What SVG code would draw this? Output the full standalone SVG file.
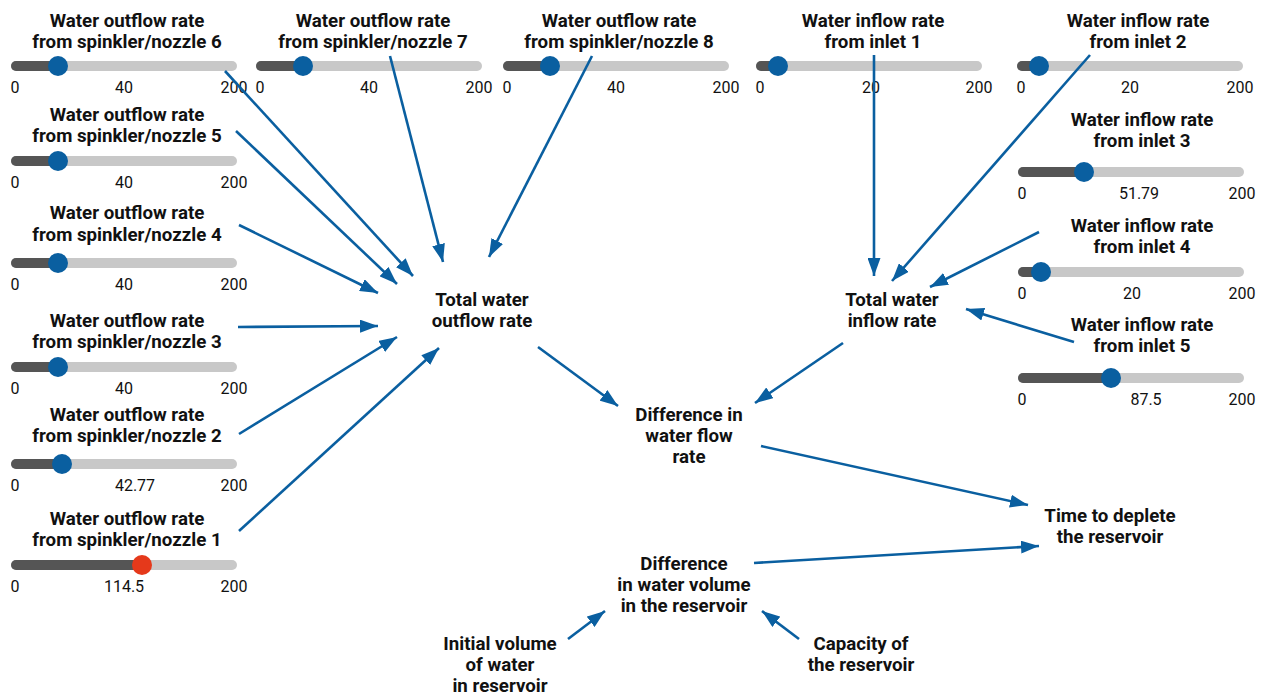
<svg xmlns="http://www.w3.org/2000/svg" width="1267" height="696" viewBox="0 0 1267 696">
<style>
.t{font-family:Roboto,"Liberation Sans",sans-serif;font-weight:bold;font-size:18.7px;fill:#111;text-anchor:middle}
.n{font-family:Roboto,"Liberation Sans",sans-serif;font-size:16px;fill:#111;text-anchor:middle}
.tr{stroke:#c8c8c8;stroke-width:10;stroke-linecap:round}
.dk{stroke:#555;stroke-width:10;stroke-linecap:round}
.th{fill:#0a5fa0}
.red{fill:#e5391b}
.c line{stroke:#0a5fa0;stroke-width:2.6;marker-end:url(#ah)}
</style>
<defs>
<marker id="ah" markerUnits="userSpaceOnUse" markerWidth="18" markerHeight="13" refX="18" refY="6.5" orient="auto">
<path d="M0,0 L18,6.5 L0,13 z" fill="#0a5fa0"/>
</marker>
</defs>
<rect width="1267" height="696" fill="#fff"/>

<g id="nozzle6">
<text class="t" x="127" y="27">Water outflow rate</text><text class="t" x="127" y="48">from spinkler/nozzle 6</text>
<line class="tr" x1="16" y1="66" x2="232" y2="66"/><line class="dk" x1="16" y1="66" x2="58" y2="66"/><circle class="th" cx="58" cy="66" r="10"/>
<text class="n" x="15" y="93">0</text><text class="n" x="124" y="93">40</text><text class="n" x="234" y="93">200</text>
</g>
<g id="nozzle7">
<text class="t" x="373" y="27">Water outflow rate</text><text class="t" x="373" y="48">from spinkler/nozzle 7</text>
<line class="tr" x1="261" y1="66" x2="477" y2="66"/><line class="dk" x1="261" y1="66" x2="303" y2="66"/><circle class="th" cx="303" cy="66" r="10"/>
<text class="n" x="260" y="93">0</text><text class="n" x="369" y="93">40</text><text class="n" x="479" y="93">200</text>
</g>
<g id="nozzle8">
<text class="t" x="619" y="27">Water outflow rate</text><text class="t" x="619" y="48">from spinkler/nozzle 8</text>
<line class="tr" x1="508" y1="66" x2="724" y2="66"/><line class="dk" x1="508" y1="66" x2="550" y2="66"/><circle class="th" cx="550" cy="66" r="10"/>
<text class="n" x="507" y="93">0</text><text class="n" x="616" y="93">40</text><text class="n" x="726" y="93">200</text>
</g>
<g id="inlet1">
<text class="t" x="873" y="27">Water inflow rate</text><text class="t" x="873" y="48">from inlet 1</text>
<line class="tr" x1="761" y1="66" x2="977" y2="66"/><line class="dk" x1="761" y1="66" x2="778" y2="66"/><circle class="th" cx="778" cy="66" r="10"/>
<text class="n" x="760" y="93">0</text><text class="n" x="871" y="93">20</text><text class="n" x="979" y="93">200</text>
</g>
<g id="inlet2">
<text class="t" x="1138" y="27">Water inflow rate</text><text class="t" x="1138" y="48">from inlet 2</text>
<line class="tr" x1="1022" y1="66" x2="1238" y2="66"/><line class="dk" x1="1022" y1="66" x2="1039" y2="66"/><circle class="th" cx="1039" cy="66" r="10"/>
<text class="n" x="1021" y="93">0</text><text class="n" x="1130" y="93">20</text><text class="n" x="1240" y="93">200</text>
</g>
<g id="nozzle5">
<text class="t" x="127" y="121">Water outflow rate</text><text class="t" x="127" y="142">from spinkler/nozzle 5</text>
<line class="tr" x1="16" y1="161" x2="232" y2="161"/><line class="dk" x1="16" y1="161" x2="58" y2="161"/><circle class="th" cx="58" cy="161" r="10"/>
<text class="n" x="15" y="188">0</text><text class="n" x="124" y="188">40</text><text class="n" x="234" y="188">200</text>
</g>
<g id="nozzle4">
<text class="t" x="127" y="219">Water outflow rate</text><text class="t" x="127" y="241">from spinkler/nozzle 4</text>
<line class="tr" x1="16" y1="263" x2="232" y2="263"/><line class="dk" x1="16" y1="263" x2="58" y2="263"/><circle class="th" cx="58" cy="263" r="10"/>
<text class="n" x="15" y="290">0</text><text class="n" x="124" y="290">40</text><text class="n" x="234" y="290">200</text>
</g>
<g id="nozzle3">
<text class="t" x="127" y="327">Water outflow rate</text><text class="t" x="127" y="348">from spinkler/nozzle 3</text>
<line class="tr" x1="16" y1="367" x2="232" y2="367"/><line class="dk" x1="16" y1="367" x2="58" y2="367"/><circle class="th" cx="58" cy="367" r="10"/>
<text class="n" x="15" y="394">0</text><text class="n" x="124" y="394">40</text><text class="n" x="234" y="394">200</text>
</g>
<g id="nozzle2">
<text class="t" x="127" y="421">Water outflow rate</text><text class="t" x="127" y="442">from spinkler/nozzle 2</text>
<line class="tr" x1="16" y1="464" x2="232" y2="464"/><line class="dk" x1="16" y1="464" x2="62" y2="464"/><circle class="th" cx="62" cy="464" r="10"/>
<text class="n" x="15" y="491">0</text><text class="n" x="135" y="491">42.77</text><text class="n" x="234" y="491">200</text>
</g>
<g id="nozzle1">
<text class="t" x="127" y="525">Water outflow rate</text><text class="t" x="127" y="546">from spinkler/nozzle 1</text>
<line class="tr" x1="16" y1="565" x2="232" y2="565"/><line class="dk" x1="16" y1="565" x2="142" y2="565"/><circle class="red" cx="142" cy="565" r="10"/>
<text class="n" x="15" y="592">0</text><text class="n" x="124" y="592">114.5</text><text class="n" x="234" y="592">200</text>
</g>
<g id="inlet3">
<text class="t" x="1142" y="126">Water inflow rate</text><text class="t" x="1142" y="147">from inlet 3</text>
<line class="tr" x1="1023" y1="172" x2="1239" y2="172"/><line class="dk" x1="1023" y1="172" x2="1084" y2="172"/><circle class="th" cx="1084" cy="172" r="10"/>
<text class="n" x="1022" y="199">0</text><text class="n" x="1139" y="199">51.79</text><text class="n" x="1242" y="199">200</text>
</g>
<g id="inlet4">
<text class="t" x="1142" y="232">Water inflow rate</text><text class="t" x="1142" y="253">from inlet 4</text>
<line class="tr" x1="1023" y1="272" x2="1239" y2="272"/><line class="dk" x1="1023" y1="272" x2="1041" y2="272"/><circle class="th" cx="1041" cy="272" r="10"/>
<text class="n" x="1022" y="299">0</text><text class="n" x="1132" y="299">20</text><text class="n" x="1242" y="299">200</text>
</g>
<g id="inlet5">
<text class="t" x="1142" y="331">Water inflow rate</text><text class="t" x="1142" y="352">from inlet 5</text>
<line class="tr" x1="1023" y1="378" x2="1239" y2="378"/><line class="dk" x1="1023" y1="378" x2="1111" y2="378"/><circle class="th" cx="1111" cy="378" r="10"/>
<text class="n" x="1022" y="405">0</text><text class="n" x="1146" y="405">87.5</text><text class="n" x="1242" y="405">200</text>
</g>

<g id="total_outflow"><text class="t" x="482" y="306">Total water</text><text class="t" x="482" y="327">outflow rate</text></g>
<g id="total_inflow"><text class="t" x="892" y="306">Total water</text><text class="t" x="892" y="327">inflow rate</text></g>
<g id="diff_flow"><text class="t" x="689" y="421">Difference in</text><text class="t" x="689" y="442">water flow</text><text class="t" x="689" y="463">rate</text></g>
<g id="time_deplete"><text class="t" x="1110" y="522">Time to deplete</text><text class="t" x="1110" y="543">the reservoir</text></g>
<g id="diff_volume"><text class="t" x="684" y="570">Difference</text><text class="t" x="684" y="591">in water volume</text><text class="t" x="684" y="612">in the reservoir</text></g>
<g id="initial_volume"><text class="t" x="500" y="650">Initial volume</text><text class="t" x="500" y="671">of water</text><text class="t" x="500" y="692">in reservoir</text></g>
<g id="capacity"><text class="t" x="861" y="650">Capacity of</text><text class="t" x="861" y="671">the reservoir</text></g>

<g id="connectors" class="c">
<line x1="225" y1="71" x2="413" y2="276"/>
<line x1="390" y1="56" x2="443" y2="262"/>
<line x1="592" y1="56" x2="489" y2="257"/>
<line x1="236" y1="131" x2="397" y2="284"/>
<line x1="239" y1="225" x2="378" y2="293"/>
<line x1="238" y1="327" x2="378" y2="326"/>
<line x1="239" y1="434" x2="397" y2="337"/>
<line x1="239" y1="531" x2="439" y2="348"/>
<line x1="874" y1="55" x2="874" y2="276"/>
<line x1="1090" y1="55" x2="892" y2="281"/>
<line x1="1039" y1="232" x2="930" y2="287"/>
<line x1="1074" y1="342" x2="966" y2="309"/>
<line x1="538" y1="347" x2="618" y2="406"/>
<line x1="843" y1="343" x2="755" y2="403"/>
<line x1="761" y1="446" x2="1028" y2="505"/>
<line x1="754" y1="563" x2="1039" y2="546"/>
<line x1="568" y1="639" x2="605" y2="611"/>
<line x1="799" y1="639" x2="762" y2="611"/>
</g>
</svg>
